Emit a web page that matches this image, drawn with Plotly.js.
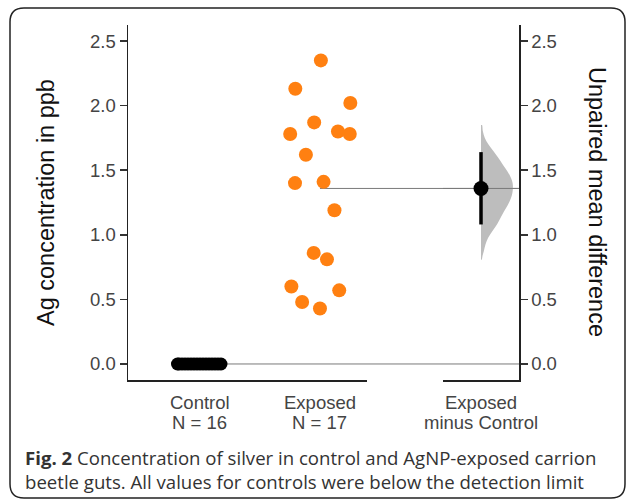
<!DOCTYPE html>
<html><head><meta charset="utf-8">
<script src="https://cdn.plot.ly/plotly-3.0.1.min.js"></script>
<style>html,body{margin:0;padding:0;background:#fff}#chart{width:627px;height:502px}</style>
</head><body><div id="chart"></div>
<script>
// ---- data ----
const groups = ['Control', 'Exposed'];
const controlVals = [0, 0, 0, 0, 0, 0, 0, 0, 0, 0, 0, 0, 0, 0, 0, 0];
const exposedVals = [2.35, 2.13, 2.02, 1.87, 1.78, 1.80, 1.78, 1.62, 1.40, 1.41, 1.19, 0.86, 0.81, 0.60, 0.57, 0.48, 0.43];
const contrastLabel = ['Exposed', 'minus Control'];
const ciBounds = [1.08, 1.64];
const bootVals = [1.85, 1.80, 1.75, 1.70, 1.65, 1.60, 1.54, 1.49, 1.44, 1.40, 1.36, 1.32, 1.285, 1.23, 1.18, 1.13, 1.08, 1.03, 0.975, 0.925, 0.875, 0.84, 0.807];
const bootDensity = [0.03, 0.06, 0.12, 0.23, 0.38, 0.53, 0.69, 0.83, 0.94, 0.99, 1.0, 0.98, 0.94, 0.84, 0.72, 0.61, 0.50, 0.36, 0.22, 0.14, 0.09, 0.05, 0.02];
const yTicks = [0, 0.5, 1.0, 1.5, 2.0, 2.5];
const captionBold = 'Fig. 2';
const captionLine1 = 'Concentration of silver in control and AgNP-exposed carrion';
const captionLine2 = 'beetle guts. All values for controls were below the detection limit';

// ---- layout geometry ----
const W = 627, H = 502;
const px = x => x / W, py = y => 1 - y / H;
const XDOM = [px(128), px(367)], X2DOM = [px(443), px(519)], YDOM = [py(380), py(25)];
const XR = [-0.6, 1.392], X2R = [-0.5, 0.5], YR = [-0.124, 2.624];
const MS = 14, CTRL_MS = 13, VIOLIN_W = 0.42;
const SPREAD_W = [0.2, 0.4];      // max spread per group (x units)
const ORANGE = '#ff8011';
const TICK_FONT = {family: 'Liberation Sans, Arial, sans-serif', size: 18.5, color: '#444'};
const TITLE_FONT = {family: 'Liberation Sans, Arial, sans-serif', size: 23.5, color: '#111'};

// quasirandom (van der Corput + kernel density) point spreading
function vdc(i) { let v = 0, d = 0.5; while (i > 0) { if (i & 1) v += d; i >>= 1; d /= 2; } return v; }
function sd(a) { const m = a.reduce((s, v) => s + v, 0) / a.length; return Math.sqrt(a.reduce((s, v) => s + (v - m) ** 2, 0) / (a.length - 1)); }
function quantile(s, p) { const h = (s.length - 1) * p, lo = Math.floor(h); return s[lo] + (h - lo) * ((s[lo + 1] ?? s[lo]) - s[lo]); }
function quasirandom(vals, width, adjust) {
  const n = vals.length, s = vals.slice().sort((a, b) => a - b);
  let lo = Math.min(sd(vals), (quantile(s, 0.75) - quantile(s, 0.25)) / 1.34);
  if (!(lo > 0)) lo = sd(vals) || Math.abs(s[0]) || 1;
  const bw = 0.9 * lo * Math.pow(n, -0.2) * adjust;
  const kde = y => vals.reduce((acc, v) => acc + Math.exp(-0.5 * ((y - v) / bw) ** 2), 0);
  let mx = 0;
  for (let k = 0; k < 512; k++) { const g = s[0] - 3 * bw + (s[n - 1] - s[0] + 6 * bw) * k / 511; mx = Math.max(mx, kde(g)); }
  const order = vals.map((v, i) => i).sort((a, b) => vals[a] - vals[b] || a - b);
  const out = new Array(n);
  order.forEach((idx, r) => { out[idx] = (vdc(r + 1) - 0.5) * 2 * (kde(vals[idx]) / mx) * width; });
  return out;
}
const mean = a => a.reduce((s, v) => s + v, 0) / a.length;
const ctrlMean = mean(controlVals), expMean = mean(exposedVals);
const diff = expMean - ctrlMean;
const ctrlX = quasirandom(controlVals, SPREAD_W[0], 0.5).map(o => 0 + o);
const expX = quasirandom(exposedVals, SPREAD_W[1], 0.5).map(o => 1 + o);
const paperX = v => XDOM[0] + (v - XR[0]) / (XR[1] - XR[0]) * (XDOM[1] - XDOM[0]);

// violin polygon (half, right side)
const vx = bootDensity.map(d => d * VIOLIN_W);
const vy = bootVals.map(v => v - ctrlMean);

const traces = [
  {type: 'scatter', mode: 'markers', x: ctrlX, y: controlVals, xaxis: 'x', yaxis: 'y',
   marker: {color: '#000', size: CTRL_MS}, hoverinfo: 'skip', showlegend: false},
  {type: 'scatter', mode: 'markers', x: expX, y: exposedVals, xaxis: 'x', yaxis: 'y',
   marker: {color: ORANGE, size: MS}, hoverinfo: 'skip', showlegend: false},
  {type: 'scatter', mode: 'lines', x: [0].concat(vx, [0]), y: [vy[0]].concat(vy, [vy[vy.length - 1]]),
   xaxis: 'x2', yaxis: 'y2', fill: 'toself', fillcolor: '#bdbdbd', line: {width: 0, shape: 'spline'},
   hoverinfo: 'skip', showlegend: false},
  {type: 'scatter', mode: 'lines', x: X2R, y: [diff, diff], xaxis: 'x2', yaxis: 'y2',
   line: {color: '#7a7a7a', width: 1}, hoverinfo: 'skip', showlegend: false},
  {type: 'scatter', mode: 'lines', x: [0, 0], y: ciBounds, xaxis: 'x2', yaxis: 'y2',
   line: {color: '#000', width: 3.5}, hoverinfo: 'skip', showlegend: false},
  {type: 'scatter', mode: 'markers', x: [0], y: [diff], xaxis: 'x2', yaxis: 'y2',
   marker: {color: '#000', size: 15}, hoverinfo: 'skip', showlegend: false}
];

const axisCommon = {showgrid: false, zeroline: false, showline: true, linecolor: '#222', linewidth: 1.5, fixedrange: true};
const frame = (() => {
  const x0 = 10, x1 = 625, y0 = 8, y1 = 498, r = 14;
  const P = (x, y) => px(x).toFixed(5) + ',' + py(y).toFixed(5);
  return 'M' + P(x0 + r, y0) + ' L' + P(x1 - r, y0) + ' Q' + P(x1, y0) + ' ' + P(x1, y0 + r) +
    ' L' + P(x1, y1 - r) + ' Q' + P(x1, y1) + ' ' + P(x1 - r, y1) +
    ' L' + P(x0 + r, y1) + ' Q' + P(x0, y1) + ' ' + P(x0, y1 - r) +
    ' L' + P(x0, y0 + r) + ' Q' + P(x0, y0) + ' ' + P(x0 + r, y0) + ' Z';
})();

const ann = [];
const addAnn = (o) => ann.push(Object.assign({showarrow: false, font: TICK_FONT}, o));
groups.forEach((g, i) => {
  const n = (i === 0 ? controlVals : exposedVals).length;
  addAnn({xref: 'x', yref: 'paper', x: i, y: py(402), text: g, xanchor: 'center', yanchor: 'middle'});
  addAnn({xref: 'x', yref: 'paper', x: i, y: py(422), text: 'N = ' + n, xanchor: 'center', yanchor: 'middle'});
});
addAnn({xref: 'x2', yref: 'paper', x: 0, y: py(402), text: contrastLabel[0], xanchor: 'center', yanchor: 'middle'});
addAnn({xref: 'x2', yref: 'paper', x: 0, y: py(422), text: contrastLabel[1], xanchor: 'center', yanchor: 'middle'});
addAnn({xref: 'paper', yref: 'paper', x: px(46), y: py(203), text: 'Ag concentration in ppb', textangle: -90,
  font: TITLE_FONT, xanchor: 'center', yanchor: 'middle'});
addAnn({xref: 'paper', yref: 'paper', x: px(597), y: py(202), text: 'Unpaired mean difference', textangle: 90,
  font: TITLE_FONT, xanchor: 'center', yanchor: 'middle'});
const CAP_FONT = {family: 'Open Sans, Noto Sans, sans-serif', size: 18.6, color: '#333'};
addAnn({xref: 'paper', yref: 'paper', x: px(23), y: py(457), text: '<b>' + captionBold + '</b> ' + captionLine1,
  xanchor: 'left', yanchor: 'middle', font: CAP_FONT});
addAnn({xref: 'paper', yref: 'paper', x: px(23), y: py(481), text: captionLine2,
  xanchor: 'left', yanchor: 'middle', font: CAP_FONT});

const layout = {
  width: W, height: H, margin: {l: 0, r: 0, t: 0, b: 0}, paper_bgcolor: '#fff', plot_bgcolor: 'rgba(0,0,0,0)',
  showlegend: false,
  xaxis: Object.assign({}, axisCommon, {domain: XDOM, range: XR, anchor: 'y', showticklabels: false, ticks: ''}),
  xaxis2: Object.assign({}, axisCommon, {domain: X2DOM, range: X2R, anchor: 'y2', showticklabels: false, ticks: ''}),
  yaxis: Object.assign({}, axisCommon, {domain: YDOM, range: YR, anchor: 'x', side: 'left', tickmode: 'array',
    tickvals: yTicks, tickformat: '.1f', ticks: 'outside', ticklen: 7, tickwidth: 1.5, tickcolor: '#333', tickfont: TICK_FONT}),
  yaxis2: Object.assign({}, axisCommon, {domain: YDOM, range: YR, anchor: 'x2', side: 'right', tickmode: 'array',
    tickvals: yTicks, tickformat: '.1f', ticks: 'outside', ticklen: 7, tickwidth: 1.5, tickcolor: '#333', tickfont: TICK_FONT}),
  shapes: [
    {type: 'line', xref: 'paper', yref: 'y', x0: paperX(0), x1: X2DOM[1], y0: ctrlMean, y1: ctrlMean,
     line: {color: '#7a7a7a', width: 1}, layer: 'below'},
    {type: 'line', xref: 'paper', yref: 'y', x0: paperX(1), x1: X2DOM[1], y0: expMean, y1: expMean,
     line: {color: '#7a7a7a', width: 1}, layer: 'below'},
    {type: 'path', xref: 'paper', yref: 'paper', path: frame, line: {color: '#222', width: 1.5}}
  ],
  annotations: ann
};
Plotly.newPlot('chart', traces, layout, {displayModeBar: false, staticPlot: true});
</script></body></html>
